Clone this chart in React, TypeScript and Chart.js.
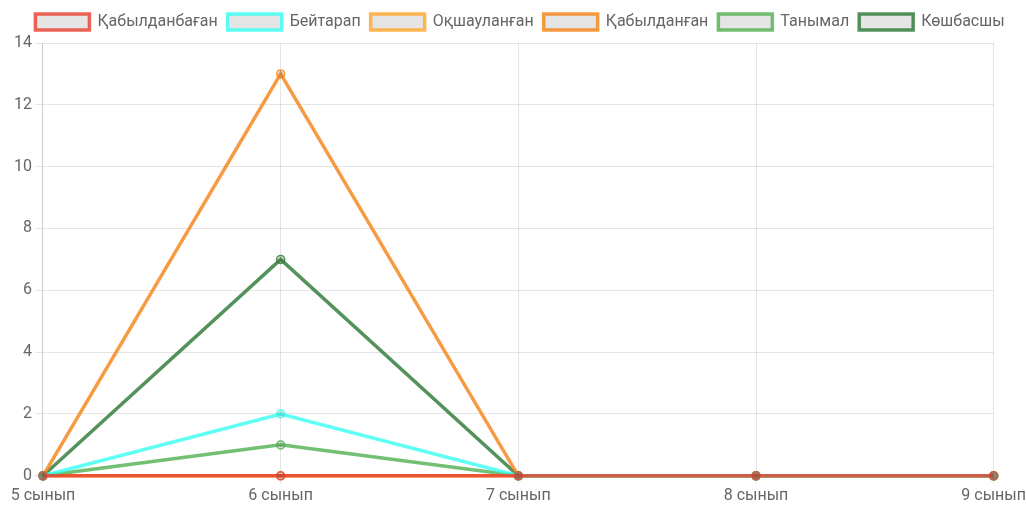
import React, { useEffect, useRef } from "react";
import { Chart, registerables } from "chart.js";

Chart.register(...registerables);

const categories = ["5 сынып", "6 сынып", "7 сынып", "8 сынып", "9 сынып"];
const seriesNames = ["Қабылданбаған", "Бейтарап", "Оқшауланған", "Қабылданған", "Танымал", "Көшбасшы"];
const rejected = [0, 0, 0, 0, 0];
const neutral = [0, 2, 0, 0, 0];
const isolated = [0, 0, 0, 0, 0];
const accepted = [0, 13, 0, 0, 0];
const popular = [0, 1, 0, 0, 0];
const leader = [0, 7, 0, 0, 0];
const seriesValues = [rejected, neutral, isolated, accepted, popular, leader];
const seriesColors = [
  "rgba(231, 60, 45, 0.8)",
  "rgba(40, 255, 240, 0.75)",
  "rgba(255, 165, 40, 0.8)",
  "rgba(245, 130, 20, 0.8)",
  "rgba(80, 175, 80, 0.8)",
  "rgba(40, 120, 50, 0.8)",
];
const yTicks = { min: 0, max: 14, step: 2 };

const legendSpacer = {
  id: "legendSpacer",
  afterInit(chart: any) {
    const legend = chart.legend;
    if (!legend) return;
    const orig = legend.fit;
    legend.fit = function () {
      orig.call(this);
      this.height += 3;
    };
  },
};

export default function App() {
  const ref = useRef<HTMLCanvasElement | null>(null);
  useEffect(() => {
    if (!ref.current) return;
    const font = { family: "Roboto, Arial, sans-serif", size: 16 };
    const chart = new Chart(ref.current, {
      type: "line",
      data: {
        labels: categories,
        datasets: seriesNames.map((name, i) => ({
          label: name,
          data: seriesValues[i],
          borderColor: seriesColors[i],
          backgroundColor: "rgba(0,0,0,0.1)",
          borderWidth: 3.5,
          pointRadius: 4,
          pointBorderWidth: 1.5,
          pointBackgroundColor: "rgba(0,0,0,0.1)",
          pointBorderColor: seriesColors[i],
          tension: 0,
          fill: false,
          clip: false as any,
        })),
      },
      options: {
        animation: false,
        responsive: true,
        maintainAspectRatio: false,
        layout: { padding: { left: 11, right: 0, top: 4, bottom: 0 } },
        plugins: {
          legend: {
            labels: {
              boxWidth: 54,
              boxHeight: 16,
              color: "#666",
              font,
              padding: 10,
            },
          },
          tooltip: { enabled: false },
        },
        scales: {
          x: {
            grid: { color: "rgba(0,0,0,0.1)" },
            ticks: { color: "#666", font },
          },
          y: {
            min: yTicks.min,
            max: yTicks.max,
            grid: { color: "rgba(0,0,0,0.1)" },
            ticks: { stepSize: yTicks.step, color: "#666", font },
          },
        },
      },
      plugins: [legendSpacer],
    });
    return () => chart.destroy();
  }, []);
  return (
    <div style={{ position: "fixed", left: 0, top: 0, width: 1029, height: 509 }}>
      <canvas ref={ref} />
    </div>
  );
}
